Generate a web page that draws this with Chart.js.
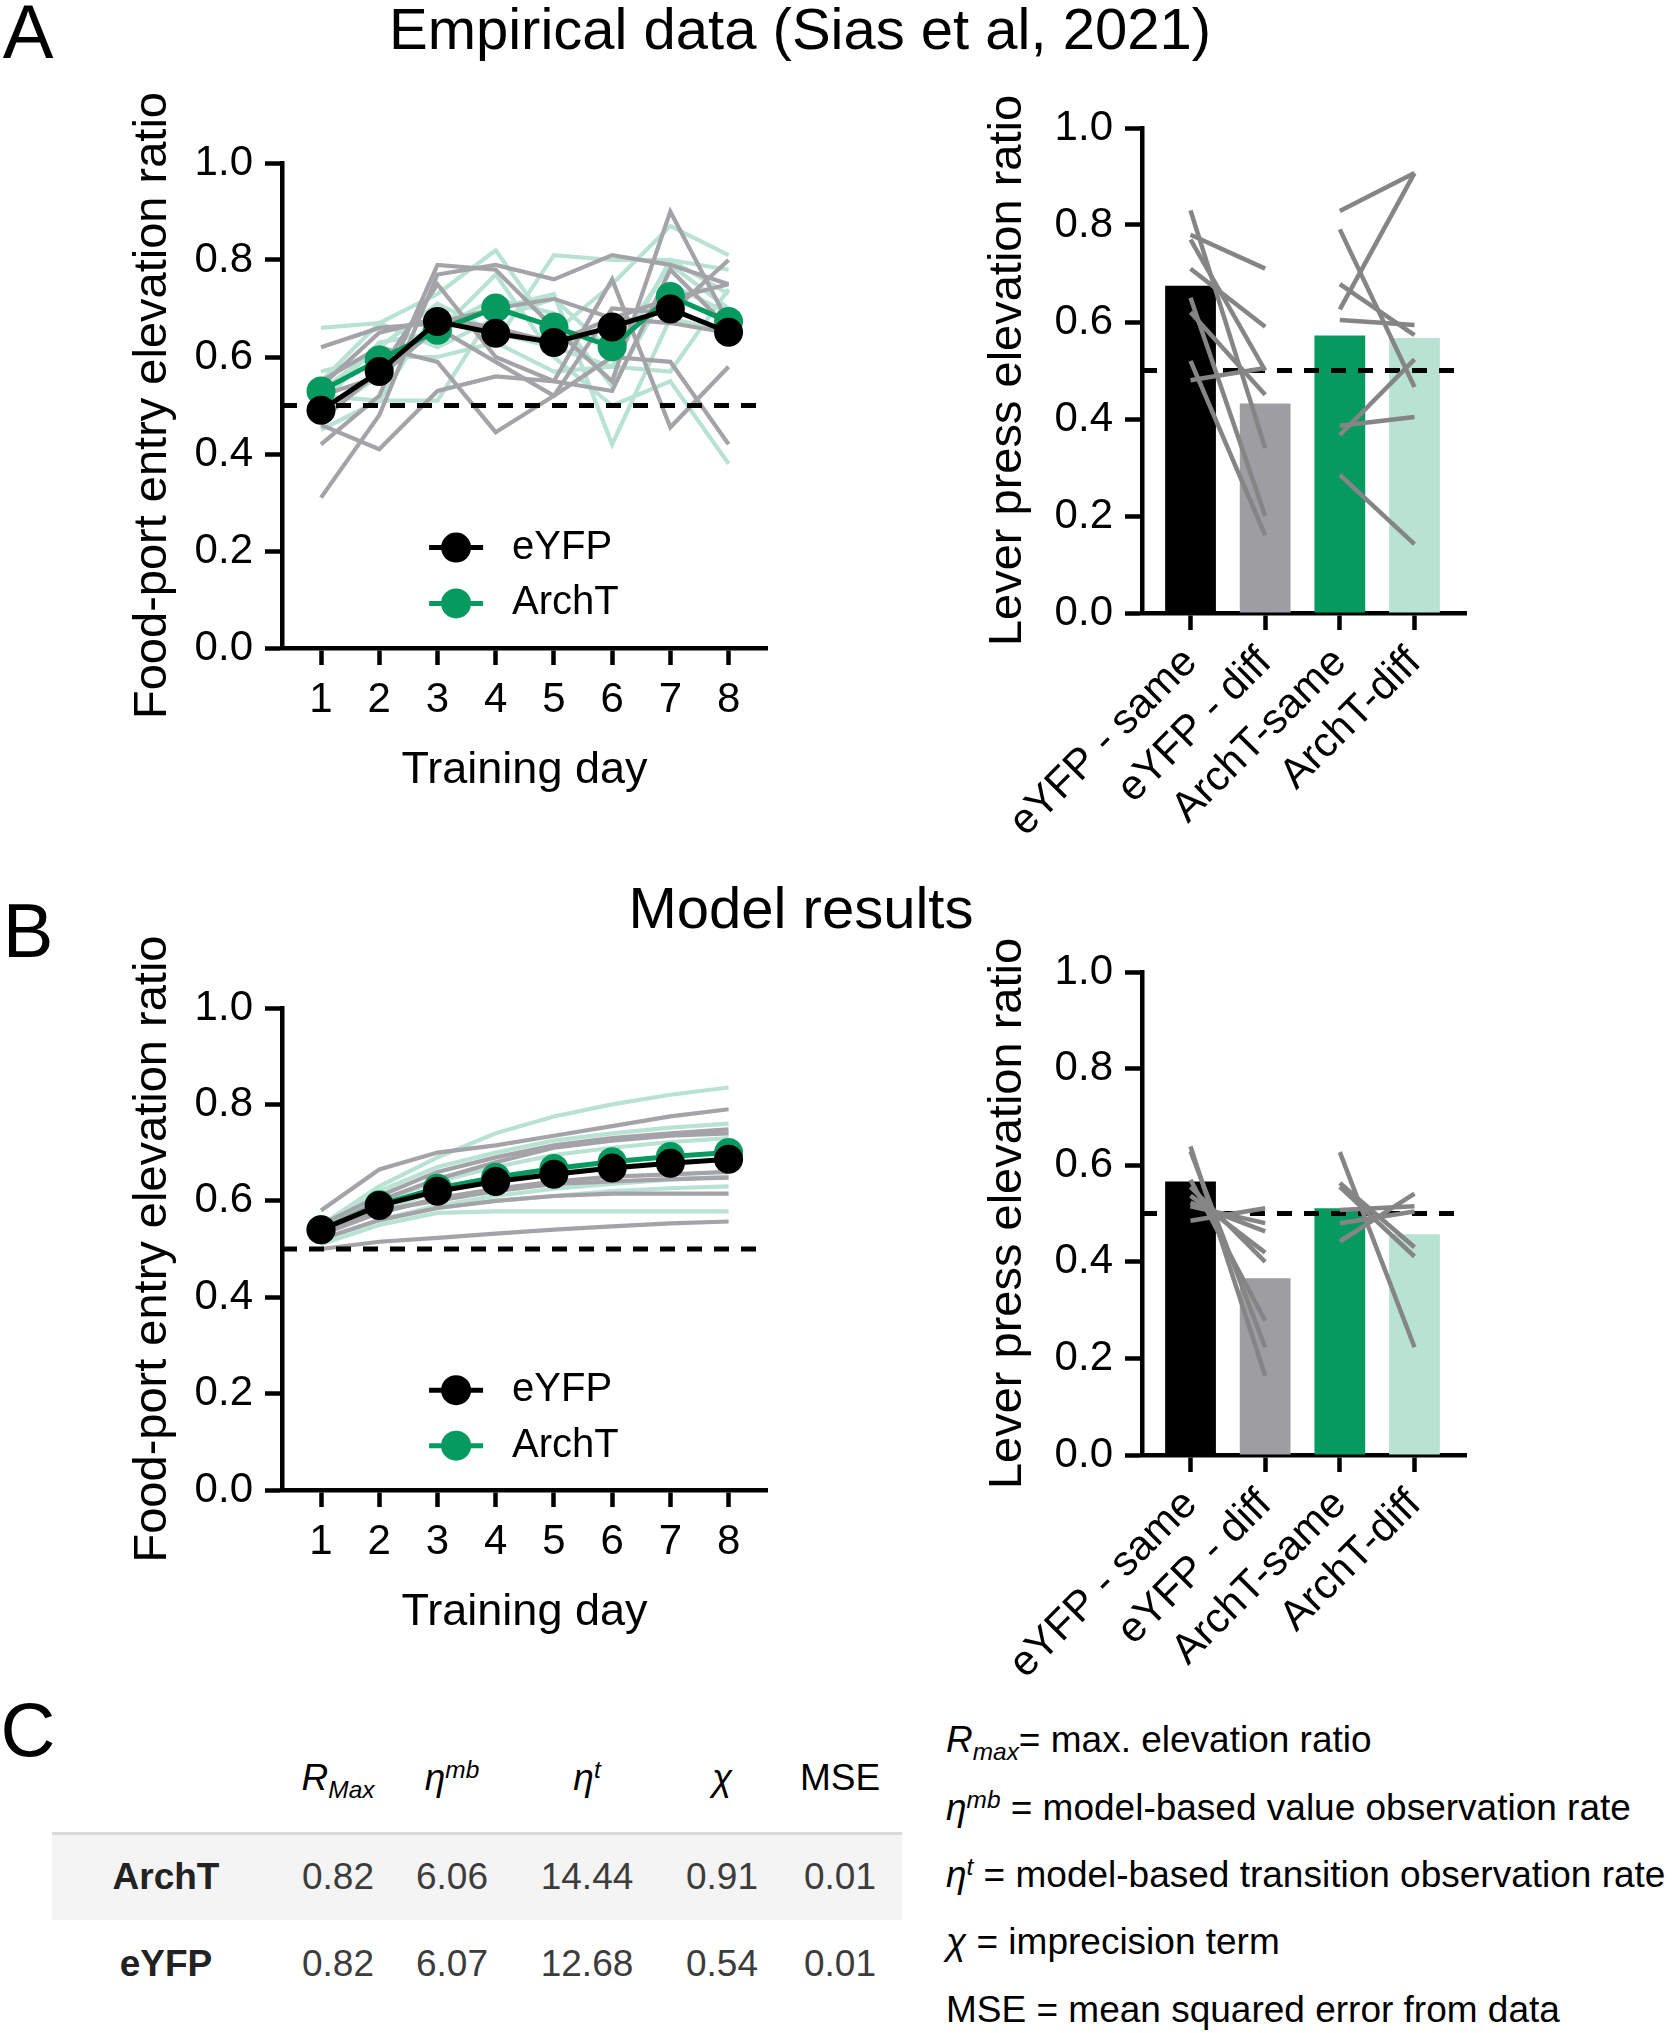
<!DOCTYPE html>
<html>
<head>
<meta charset="utf-8">
<title>Empirical data vs model results</title>
<script src="https://cdn.jsdelivr.net/npm/chart.js@4.4.1/dist/chart.umd.min.js"></script>
<style>
  html, body { margin: 0; padding: 0; background: #fff; }
  #page { position: relative; width: 1672px; height: 2033px; overflow: hidden;
          font-family: 'Liberation Sans', Arial, sans-serif; color: #000; }
  canvas { position: absolute; }
  .txt { position: absolute; transform: translate(-50%, -50%); white-space: nowrap; line-height: 1; z-index: 2; }
  .panel { font-size: 76px; }
  .title { font-size: 58px; }
  .def { position: absolute; left: 946px; transform: translateY(-50%); font-size: 37px;
         line-height: 1; white-space: nowrap; }
  .lo { font-size: 0.66em; position: relative; top: 0.32em; vertical-align: baseline; font-style: italic; }
  .hi { font-size: 0.66em; position: relative; top: -0.5em; vertical-align: baseline; font-style: italic; }
  #params { position: absolute; left: 52px; top: 1737px; width: 850px; border-collapse: collapse;
            table-layout: fixed; font-size: 37px; }
  #params th, #params td { padding: 0; text-align: center; vertical-align: middle; }
  #params tr.head { height: 96px; }
  #params tr.head th { font-weight: normal; padding-bottom: 12px; }
  #params tr.row { height: 87px; color: #3c3c3c; }
  #params tr.row td:first-child { font-weight: bold; color: #222; }
  #params tr.shade td { background: #f4f4f4; border-top: 3px solid #dadada; }
</style>
</head>
<body>
<div id="page">
  <div class="txt panel" style="left:28px;top:32px">A</div>
  <div class="txt title" style="left:800px;top:29px">Empirical data (Sias et al, 2021)</div>
  <canvas id="empLine" width="700" height="760" style="left:90px;top:50px"></canvas>
  <canvas id="empBar" width="560" height="840" style="left:950px;top:35px"></canvas>

  <div class="txt panel" style="left:28px;top:931px">B</div>
  <div class="txt title" style="left:801px;top:908px">Model results</div>
  <canvas id="modLine" width="700" height="757" style="left:90px;top:895px"></canvas>
  <canvas id="modBar" width="560" height="838" style="left:950px;top:879px"></canvas>

  <div class="txt panel" style="left:28px;top:1730px">C</div>
  <table id="params">
    <colgroup>
      <col style="width:228px"><col style="width:116px"><col style="width:112px">
      <col style="width:158px"><col style="width:112px"><col style="width:124px">
    </colgroup>
    <tbody id="paramBody">
      <tr class="head">
        <th></th>
        <th><i>R</i><span class="lo">Max</span></th>
        <th><i>η</i><span class="hi">mb</span></th>
        <th><i>η</i><span class="hi">t</span></th>
        <th><i>χ</i></th>
        <th>MSE</th>
      </tr>
    </tbody>
  </table>

  <div class="def" style="top:1739px"><i>R</i><span class="lo">max</span>= max. elevation ratio</div>
  <div class="def" style="top:1807px"><i>η</i><span class="hi">mb</span> = model-based value observation rate</div>
  <div class="def" style="top:1874px"><i>η</i><span class="hi">t</span> = model-based transition observation rate</div>
  <div class="def" style="top:1941px"><i>χ</i> = imprecision term</div>
  <div class="def" style="top:2009px">MSE = mean squared error from data</div>
</div>

<script>
// ---------------- data ----------------
const days = [1, 2, 3, 4, 5, 6, 7, 8];

// A: empirical food-port entry elevation ratio
const empMeanEYFP = [0.49, 0.57, 0.673, 0.649, 0.63, 0.662, 0.699, 0.651];
const empMeanArchT = [0.53, 0.594, 0.655, 0.701, 0.662, 0.621, 0.725, 0.673];
const empRatsEYFP = [
  [0.31, 0.48, 0.77, 0.79, 0.76, 0.81, 0.79, 0.75],
  [0.42, 0.52, 0.79, 0.78, 0.66, 0.55, 0.90, 0.67],
  [0.46, 0.41, 0.53, 0.56, 0.55, 0.76, 0.455, 0.58],
  [0.62, 0.66, 0.67, 0.70, 0.72, 0.68, 0.67, 0.65],
  [0.55, 0.62, 0.59, 0.445, 0.52, 0.70, 0.69, 0.80],
  [0.52, 0.56, 0.66, 0.59, 0.52, 0.60, 0.59, 0.42],
  [0.47, 0.57, 0.75, 0.60, 0.55, 0.53, 0.78, 0.66],
  [0.54, 0.65, 0.68, 0.66, 0.63, 0.68, 0.72, 0.75],
];
const empRatsArchT = [
  [0.66, 0.67, 0.73, 0.82, 0.65, 0.75, 0.87, 0.81],
  [0.45, 0.51, 0.70, 0.63, 0.81, 0.80, 0.80, 0.78],
  [0.50, 0.63, 0.65, 0.77, 0.60, 0.50, 0.55, 0.38],
  [0.52, 0.51, 0.51, 0.70, 0.73, 0.42, 0.68, 0.65],
  [0.57, 0.60, 0.60, 0.63, 0.57, 0.58, 0.57, 0.74],
  [0.55, 0.67, 0.62, 0.68, 0.72, 0.61, 0.79, 0.70],
  [0.48, 0.56, 0.66, 0.72, 0.69, 0.54, 0.75, 0.69],
  [0.53, 0.62, 0.71, 0.65, 0.62, 0.58, 0.80, 0.73],
];

// B: model food-port entry elevation ratio
const modMeanEYFP = [0.54, 0.59, 0.62, 0.64, 0.655, 0.668, 0.678, 0.686];
const modMeanArchT = [0.54, 0.592, 0.626, 0.649, 0.667, 0.681, 0.692, 0.70];
const modRatsEYFP = [
  [0.58, 0.665, 0.70, 0.715, 0.735, 0.755, 0.775, 0.79],
  [0.55, 0.61, 0.66, 0.69, 0.715, 0.73, 0.74, 0.748],
  [0.54, 0.60, 0.645, 0.68, 0.71, 0.725, 0.735, 0.74],
  [0.53, 0.58, 0.60, 0.62, 0.635, 0.64, 0.645, 0.648],
  [0.52, 0.56, 0.585, 0.60, 0.61, 0.615, 0.615, 0.615],
  [0.50, 0.515, 0.523, 0.532, 0.54, 0.547, 0.553, 0.557],
  [0.53, 0.575, 0.605, 0.625, 0.64, 0.65, 0.655, 0.66],
];
const modRatsArchT = [
  [0.55, 0.63, 0.69, 0.74, 0.775, 0.80, 0.82, 0.835],
  [0.54, 0.62, 0.67, 0.70, 0.725, 0.74, 0.752, 0.76],
  [0.53, 0.60, 0.64, 0.67, 0.695, 0.71, 0.722, 0.73],
  [0.52, 0.56, 0.59, 0.61, 0.625, 0.635, 0.644, 0.65],
  [0.52, 0.56, 0.585, 0.60, 0.61, 0.62, 0.626, 0.63],
  [0.51, 0.55, 0.575, 0.578, 0.578, 0.578, 0.578, 0.578],
  [0.53, 0.58, 0.62, 0.645, 0.66, 0.67, 0.68, 0.685],
];

// lever press elevation ratio (same vs diff)
const barLabels = ['eYFP - same', 'eYFP - diff', 'ArchT-same', 'ArchT-diff'];
const empBarMeans = [0.675, 0.432, 0.572, 0.567];
const empPairsEYFP = [[0.83, 0.34], [0.78, 0.71], [0.77, 0.50], [0.71, 0.59], [0.65, 0.20], [0.62, 0.45], [0.52, 0.16], [0.48, 0.505]];
const empPairsArchT = [[0.829, 0.907], [0.791, 0.466], [0.678, 0.573], [0.626, 0.907], [0.604, 0.594], [0.386, 0.404], [0.367, 0.523], [0.285, 0.142]];
const modBarMeans = [0.566, 0.366, 0.511, 0.457];
const modPairsEYFP = [[0.639, 0.164], [0.629, 0.223], [0.57, 0.278], [0.555, 0.40], [0.537, 0.419], [0.522, 0.463], [0.515, 0.48], [0.485, 0.511]];
const modPairsArchT = [[0.627, 0.223], [0.563, 0.43], [0.555, 0.411], [0.507, 0.515], [0.48, 0.504], [0.442, 0.541]];

// C: fitted parameters
const paramGroups = ['ArchT', 'eYFP'];
const paramRMax = ['0.82', '0.82'];
const paramEtaMB = ['6.06', '6.07'];
const paramEtaT = ['14.44', '12.68'];
const paramChi = ['0.91', '0.54'];
const paramMSE = ['0.01', '0.01'];

// ---------------- styling ----------------
const FONT = "'Liberation Sans', Arial, sans-serif";
const GREEN = '#079a60';
const MINT = '#b8e2d2';
const GREY_IND = '#a3a3a8';
const GREY_PAIR = '#858585';
const BAR_COLORS = ['#000000', '#9d9da2', GREEN, MINT];
const LINE_XMIN = 0.33, LINE_XMAX = 8.66;
const BAR_XMIN = 0.35, BAR_XMAX = 4.69;
const DASH = [15, 12];

Chart.defaults.font.family = FONT;
Chart.defaults.color = '#000';

const axisLines = {
  grid: { drawOnChartArea: false, drawTicks: true, offset: false, tickLength: 17, tickWidth: 4.5, tickColor: '#000' },
  border: { display: true, width: 4.5, color: '#000' },
};

// legend drawn inside the plot area: line + dot + label
const innerLegend = {
  id: 'innerLegend',
  afterDatasetsDraw(chart, args, opts) {
    if (!opts.items) return;
    const { ctx, scales: { x, y } } = chart;
    const px = x.getPixelForValue(opts.x);
    opts.items.forEach((idx, i) => {
      const ds = chart.data.datasets[idx];
      const py = y.getPixelForValue(opts.y[i]);
      ctx.save();
      ctx.strokeStyle = ds.borderColor;
      ctx.lineWidth = 5;
      ctx.beginPath();
      ctx.moveTo(px - 27, py);
      ctx.lineTo(px + 27, py);
      ctx.stroke();
      ctx.fillStyle = ds.backgroundColor;
      ctx.beginPath();
      ctx.arc(px, py, 15, 0, Math.PI * 2);
      ctx.fill();
      ctx.fillStyle = '#000';
      ctx.font = '40px ' + FONT;
      ctx.textBaseline = 'middle';
      ctx.fillText(ds.label, px + 56, py);
      ctx.restore();
    });
  }
};

function yScale(title, width, titlePad) {
  return {
    min: 0, max: 1,
    ticks: { stepSize: 0.2, callback: v => v.toFixed(1), font: { size: 42 }, color: '#000', padding: 12 },
    ...axisLines,
    title: { display: true, text: title, font: { size: 47 }, color: '#000', padding: { top: titlePad, bottom: 0 } },
    afterFit: s => { s.width = width; }
  };
}

function dayChart(id, meanE, meanA, ratsE, ratsA) {
  const pts = arr => arr.map((v, i) => ({ x: days[i], y: v }));
  const datasets = [
    { label: 'eYFP', data: pts(meanE), borderColor: '#000', backgroundColor: '#000', borderWidth: 5,
      pointRadius: 14.5, pointBorderWidth: 0, order: 0 },
    { label: 'ArchT', data: pts(meanA), borderColor: GREEN, backgroundColor: GREEN, borderWidth: 5,
      pointRadius: 14.5, pointBorderWidth: 0, order: 1 },
    { label: 'chance', data: [{ x: LINE_XMIN, y: 0.5 }, { x: LINE_XMAX, y: 0.5 }], borderColor: '#000',
      borderWidth: 5, borderDash: DASH, pointRadius: 0, order: 2 },
  ];
  ratsE.forEach(r => datasets.push({ data: pts(r), borderColor: GREY_IND, borderWidth: 4.2, pointRadius: 0, order: 3 }));
  ratsA.forEach(r => datasets.push({ data: pts(r), borderColor: MINT, borderWidth: 4.2, pointRadius: 0, order: 4 }));

  return new Chart(document.getElementById(id), {
    type: 'line',
    data: { datasets },
    plugins: [innerLegend],
    options: {
      responsive: false, animation: false, devicePixelRatio: 1,
      layout: { padding: { left: 0, top: 113, right: 23, bottom: 0 } },
      plugins: {
        legend: { display: false }, tooltip: { enabled: false },
        innerLegend: { x: 3.32, y: [0.207, 0.092], items: [0, 1] }
      },
      scales: {
        x: {
          type: 'linear', min: LINE_XMIN, max: LINE_XMAX, offset: false,
          ticks: { stepSize: 1, includeBounds: false, maxRotation: 0, font: { size: 42 }, color: '#000', padding: 10 },
          ...axisLines,
          title: { display: true, text: 'Training day', font: { size: 45 }, color: '#000', padding: { top: 0, bottom: 12 } },
          afterFit: s => { s.height = 162; }
        },
        y: yScale('Food-port entry elevation ratio', 192, 35)
      }
    }
  });
}

function pressChart(id, means, pairsE, pairsA) {
  const datasets = [];
  pairsE.forEach(p => datasets.push({ type: 'line', data: [{ x: 1, y: p[0] }, { x: 2, y: p[1] }],
    borderColor: GREY_PAIR, borderWidth: 4.5, pointRadius: 0, order: 0 }));
  pairsA.forEach(p => datasets.push({ type: 'line', data: [{ x: 3, y: p[0] }, { x: 4, y: p[1] }],
    borderColor: GREY_PAIR, borderWidth: 4.5, pointRadius: 0, order: 0 }));
  datasets.push({ type: 'line', data: [{ x: BAR_XMIN, y: 0.5 }, { x: BAR_XMAX, y: 0.5 }],
    borderColor: '#000', borderWidth: 5, borderDash: DASH, pointRadius: 0, order: 1 });
  datasets.push({ type: 'bar', data: means.map((v, i) => ({ x: i + 1, y: v })), backgroundColor: BAR_COLORS,
    barPercentage: 0.68, categoryPercentage: 1, order: 2 });

  return new Chart(document.getElementById(id), {
    type: 'line',
    data: { datasets },
    options: {
      responsive: false, animation: false, devicePixelRatio: 1,
      layout: { padding: { left: 0, top: 93, right: 44, bottom: 0 } },
      plugins: { legend: { display: false }, tooltip: { enabled: false } },
      scales: {
        x: {
          type: 'linear', min: BAR_XMIN, max: BAR_XMAX, offset: false,
          ticks: { stepSize: 1, includeBounds: false, autoSkip: false, minRotation: 45, maxRotation: 45,
                   font: { size: 42 }, color: '#000', padding: 8,
                   callback: v => barLabels[Math.round(v) - 1] },
          ...axisLines,
          afterFit: s => { s.height = 262; }
        },
        y: yScale('Lever press elevation ratio', 192, 30)
      }
    }
  });
}

dayChart('empLine', empMeanEYFP, empMeanArchT, empRatsEYFP, empRatsArchT);
pressChart('empBar', empBarMeans, empPairsEYFP, empPairsArchT);
dayChart('modLine', modMeanEYFP, modMeanArchT, modRatsEYFP, modRatsArchT);
pressChart('modBar', modBarMeans, modPairsEYFP, modPairsArchT);

// ---------------- parameter table ----------------
const body = document.getElementById('paramBody');
paramGroups.forEach((g, i) => {
  const tr = document.createElement('tr');
  tr.className = i === 0 ? 'row shade' : 'row';
  [g, paramRMax[i], paramEtaMB[i], paramEtaT[i], paramChi[i], paramMSE[i]].forEach(v => {
    const td = document.createElement('td');
    td.textContent = v;
    tr.appendChild(td);
  });
  body.appendChild(tr);
});
</script>
</body>
</html>
